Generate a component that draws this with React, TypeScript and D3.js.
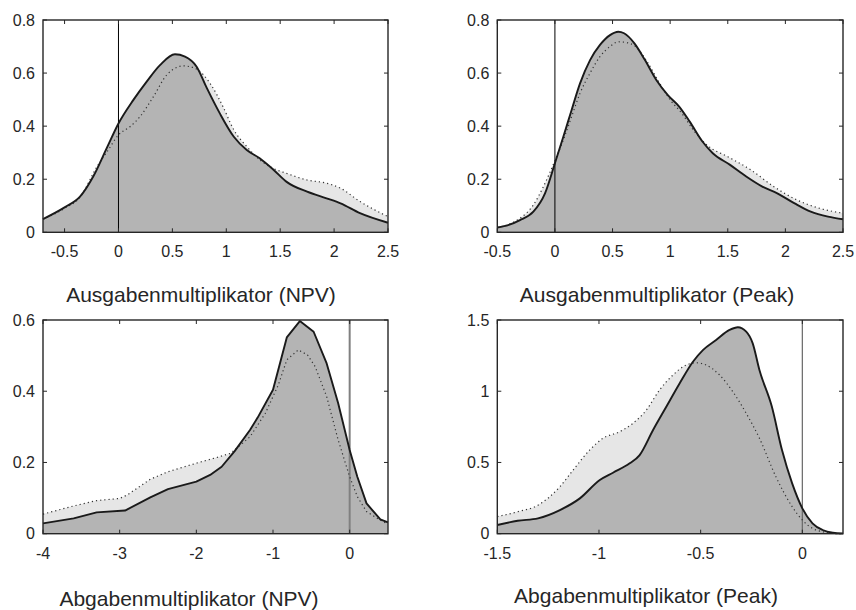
import React from 'react';
import * as d3 from 'd3';

// ---------- Data ----------
// Panel 1: Ausgabenmultiplikator (NPV)
const p1SolidX = [-0.7, -0.5, -0.357, -0.234, -0.11, 0, 0.137, 0.26, 0.385, 0.524, 0.617, 0.725, 0.82, 0.94, 1.07, 1.19, 1.31, 1.44, 1.56, 1.75, 1.93, 2.06, 2.24, 2.5];
const p1SolidY = [0.05, 0.094, 0.134, 0.21, 0.316, 0.41, 0.498, 0.567, 0.63, 0.671, 0.662, 0.624, 0.543, 0.448, 0.36, 0.31, 0.279, 0.235, 0.19, 0.153, 0.128, 0.109, 0.072, 0.036];
const p1DotX = [-0.7, -0.5, -0.357, -0.2, -0.095, 0, 0.107, 0.2, 0.324, 0.447, 0.524, 0.6, 0.71, 0.86, 0.97, 1.07, 1.19, 1.32, 1.44, 1.56, 1.75, 1.93, 2.06, 2.24, 2.5];
const p1DotY = [0.05, 0.09, 0.132, 0.247, 0.31, 0.367, 0.398, 0.436, 0.511, 0.593, 0.618, 0.627, 0.618, 0.555, 0.473, 0.386, 0.323, 0.27, 0.24, 0.222, 0.197, 0.185, 0.166, 0.116, 0.059];

// Panel 2: Ausgabenmultiplikator (Peak)
const p2SolidX = [-0.5, -0.4, -0.303, -0.187, -0.086, 0, 0.073, 0.145, 0.218, 0.305, 0.391, 0.478, 0.55, 0.6, 0.69, 0.78, 0.88, 0.98, 1.08, 1.17, 1.28, 1.37, 1.52, 1.66, 1.8, 1.93, 2.08, 2.22, 2.37, 2.5];
const p2SolidY = [0.018, 0.028, 0.046, 0.078, 0.147, 0.26, 0.36, 0.461, 0.561, 0.649, 0.706, 0.743, 0.756, 0.75, 0.712, 0.65, 0.574, 0.517, 0.473, 0.417, 0.342, 0.298, 0.254, 0.21, 0.172, 0.147, 0.109, 0.078, 0.059, 0.049];
const p2DotX = [-0.5, -0.4, -0.303, -0.187, -0.1, 0, 0.073, 0.145, 0.218, 0.305, 0.391, 0.478, 0.55, 0.62, 0.7, 0.8, 0.9, 1.0, 1.1, 1.2, 1.33, 1.5, 1.7, 1.9, 2.1, 2.3, 2.5];
const p2DotY = [0.018, 0.03, 0.053, 0.103, 0.172, 0.27, 0.348, 0.436, 0.524, 0.6, 0.662, 0.7, 0.718, 0.715, 0.7, 0.643, 0.568, 0.499, 0.449, 0.386, 0.325, 0.285, 0.235, 0.172, 0.122, 0.09, 0.072];

// Panel 3: Abgabenmultiplikator (NPV)
const p3SolidX = [-4, -3.6, -3.3, -2.93, -2.6, -2.37, -2.0, -1.82, -1.67, -1.5, -1.3, -1.2, -1.0, -0.82, -0.65, -0.47, -0.3, -0.15, 0, 0.1, 0.22, 0.4, 0.5];
const p3SolidY = [0.029, 0.043, 0.06, 0.065, 0.102, 0.125, 0.146, 0.165, 0.188, 0.232, 0.291, 0.326, 0.404, 0.551, 0.597, 0.567, 0.478, 0.366, 0.235, 0.16, 0.085, 0.04, 0.032];
const p3DotX = [-4, -3.6, -3.3, -3.0, -2.9, -2.6, -2.37, -2.0, -1.7, -1.55, -1.3, -1.1, -0.93, -0.82, -0.67, -0.55, -0.45, -0.3, -0.15, 0, 0.1, 0.22, 0.4, 0.5];
const p3DotY = [0.055, 0.078, 0.093, 0.099, 0.109, 0.153, 0.174, 0.198, 0.216, 0.226, 0.272, 0.338, 0.418, 0.488, 0.516, 0.502, 0.469, 0.385, 0.263, 0.16, 0.104, 0.062, 0.038, 0.027];

// Panel 4: Abgabenmultiplikator (Peak)
const p4SolidX = [-1.5, -1.4, -1.3, -1.192, -1.094, -0.996, -0.931, -0.849, -0.8, -0.734, -0.669, -0.603, -0.538, -0.489, -0.424, -0.358, -0.317, -0.276, -0.244, -0.211, -0.15, -0.1, -0.05, 0, 0.05, 0.1, 0.15, 0.2];
const p4SolidY = [0.061, 0.091, 0.108, 0.166, 0.248, 0.377, 0.428, 0.494, 0.552, 0.728, 0.891, 1.056, 1.207, 1.289, 1.36, 1.43, 1.449, 1.418, 1.336, 1.149, 0.892, 0.587, 0.353, 0.178, 0.073, 0.026, 0.007, 0.002];
const p4DotX = [-1.5, -1.4, -1.3, -1.192, -1.127, -1.045, -0.98, -0.898, -0.833, -0.767, -0.702, -0.636, -0.571, -0.522, -0.473, -0.407, -0.342, -0.276, -0.211, -0.13, -0.05, 0, 0.05, 0.1, 0.15, 0.2];
const p4DotY = [0.12, 0.154, 0.2, 0.33, 0.447, 0.588, 0.67, 0.716, 0.775, 0.868, 1.009, 1.114, 1.184, 1.2, 1.184, 1.114, 0.997, 0.845, 0.67, 0.4, 0.19, 0.096, 0.037, 0.014, 0.002, 0];

// Ticks
const p1XTicks = [-0.5, 0, 0.5, 1, 1.5, 2, 2.5];
const p1YTicks = [0, 0.2, 0.4, 0.6, 0.8];
const p2XTicks = [-0.5, 0, 0.5, 1, 1.5, 2, 2.5];
const p2YTicks = [0, 0.2, 0.4, 0.6, 0.8];
const p3XTicks = [-4, -3, -2, -1, 0];
const p3YTicks = [0, 0.2, 0.4, 0.6];
const p4XTicks = [-1.5, -1, -0.5, 0];
const p4YTicks = [0, 0.5, 1, 1.5];

const labels = [
  'Ausgabenmultiplikator (NPV)',
  'Ausgabenmultiplikator (Peak)',
  'Abgabenmultiplikator (NPV)',
  'Abgabenmultiplikator (Peak)',
];

// ---------- Layout ----------
const FONT = '"Liberation Sans", Arial, Helvetica, sans-serif';
const TXT = '#262626';

type PanelDef = {
  box: [number, number, number, number]; // left, top, right, bottom
  xDomain: [number, number];
  yDomain: [number, number];
  xTicks: number[];
  yTicks: number[];
  sx: number[]; sy: number[]; dx: number[]; dy: number[];
  label: string;
  labelPos: [number, number];
  zeroColor: string;
  zeroWidth: number;
  linear: boolean;
};

const panels: PanelDef[] = [
  { box: [43, 20, 388, 232.3], xDomain: [-0.7, 2.5], yDomain: [0, 0.8], xTicks: p1XTicks, yTicks: p1YTicks,
    sx: p1SolidX, sy: p1SolidY, dx: p1DotX, dy: p1DotY, label: labels[0], labelPos: [201, 302],
    zeroColor: '#000', zeroWidth: 1, linear: false },
  { box: [497.3, 20, 843, 232.3], xDomain: [-0.5, 2.5], yDomain: [0, 0.8], xTicks: p2XTicks, yTicks: p2YTicks,
    sx: p2SolidX, sy: p2SolidY, dx: p2DotX, dy: p2DotY, label: labels[1], labelPos: [657, 302],
    zeroColor: '#000', zeroWidth: 1, linear: false },
  { box: [43, 320, 388, 533.7], xDomain: [-4, 0.5], yDomain: [0, 0.6], xTicks: p3XTicks, yTicks: p3YTicks,
    sx: p3SolidX, sy: p3SolidY, dx: p3DotX, dy: p3DotY, label: labels[2], labelPos: [189, 606],
    zeroColor: '#808080', zeroWidth: 2, linear: true },
  { box: [497.3, 320, 843, 533.7], xDomain: [-1.5, 0.2], yDomain: [0, 1.5], xTicks: p4XTicks, yTicks: p4YTicks,
    sx: p4SolidX, sy: p4SolidY, dx: p4DotX, dy: p4DotY, label: labels[3], labelPos: [646, 603],
    zeroColor: '#666', zeroWidth: 1.2, linear: false },
];

function Panel({ p }: { p: PanelDef }) {
  const [l, t, r, b] = p.box;
  const x = d3.scaleLinear().domain(p.xDomain).range([l, r]);
  const y = d3.scaleLinear().domain(p.yDomain).range([b, t]);
  const curve = p.linear ? d3.curveLinear : d3.curveMonotoneX;
  const solid = p.sx.map((v, i) => [v, p.sy[i]] as [number, number]);
  const dotted = p.dx.map((v, i) => [v, p.dy[i]] as [number, number]);
  const area = d3.area<[number, number]>().x(d => x(d[0])).y0(y(0)).y1(d => y(d[1])).curve(curve);
  const line = d3.line<[number, number]>().x(d => x(d[0])).y(d => y(d[1])).curve(curve);
  const tl = 4;
  return (
    <g>
      <path d={area(dotted) || ''} fill="#e6e6e6" />
      <path d={area(solid) || ''} fill="#b4b4b4" />
      <line x1={x(0)} x2={x(0)} y1={t} y2={b} stroke={p.zeroColor} strokeWidth={p.zeroWidth} />
      <path d={line(dotted) || ''} fill="none" stroke="#333" strokeWidth={1.2} strokeDasharray="1.2,3" />
      <path d={line(solid) || ''} fill="none" stroke="#1a1a1a" strokeWidth={1.9} strokeLinejoin="round" />
      {p.xTicks.map(v => (
        <g key={'x' + v}>
          <line x1={x(v)} x2={x(v)} y1={b} y2={b - tl} stroke={TXT} strokeWidth={1} />
          <line x1={x(v)} x2={x(v)} y1={t} y2={t + tl} stroke={TXT} strokeWidth={1} />
          <text x={x(v)} y={b + 25} textAnchor="middle" fontFamily={FONT} fontSize={16} fill={TXT}>{String(v)}</text>
        </g>
      ))}
      {p.yTicks.map(v => (
        <g key={'y' + v}>
          <line x1={l} x2={l + tl} y1={y(v)} y2={y(v)} stroke={TXT} strokeWidth={1} />
          <line x1={r} x2={r - tl} y1={y(v)} y2={y(v)} stroke={TXT} strokeWidth={1} />
          <text x={l - 8} y={y(v)} dy="0.35em" textAnchor="end" fontFamily={FONT} fontSize={16} fill={TXT}>{String(v)}</text>
        </g>
      ))}
      <rect x={l} y={t} width={r - l} height={b - t} fill="none" stroke={TXT} strokeWidth={1.4} />
      <text x={p.labelPos[0]} y={p.labelPos[1]} textAnchor="middle" fontFamily={FONT} fontSize={21} fill={TXT}>{p.label}</text>
    </g>
  );
}

export default function App() {
  return (
    <svg width={856} height={610} style={{ position: 'absolute', left: 0, top: 0, background: '#fff' }}>
      <rect x={0} y={0} width={856} height={610} fill="#fff" />
      {panels.map((p, i) => <Panel key={i} p={p} />)}
    </svg>
  );
}
